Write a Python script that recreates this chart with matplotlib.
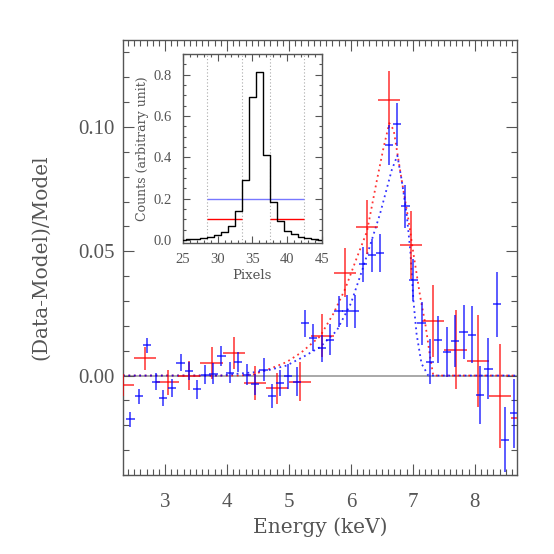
import numpy as np
import matplotlib
matplotlib.use("Agg")
import matplotlib.pyplot as plt
from matplotlib.ticker import MultipleLocator

# residual data, blue set
blue_e = [2.44, 2.58, 2.71, 2.85, 2.97, 3.11, 3.25, 3.39, 3.52, 3.65, 3.78, 3.91,
          4.05, 4.18, 4.32, 4.45, 4.59, 4.73, 4.86, 4.99, 5.13, 5.26, 5.39, 5.53,
          5.66, 5.80, 5.93, 6.07, 6.20, 6.34, 6.47, 6.61, 6.74, 6.88, 7.01, 7.14,
          7.28, 7.41, 7.55, 7.68, 7.82, 7.95, 8.09, 8.22, 8.36, 8.49, 8.63]
blue_val = [-0.0175, -0.0083, 0.0121, -0.0024, -0.0090, -0.0050, 0.0052, 0.0020,
            -0.0056, 0.0003, 0.0007, 0.0077, 0.0012, 0.0056, 0.0003, -0.0036,
            0.0024, -0.0082, -0.0030, -0.0003, -0.0024, 0.0210, 0.0152, 0.0110,
            0.0144, 0.0259, 0.0260, 0.0258, 0.0448, 0.0484, 0.0493, 0.0927,
            0.1010, 0.0680, 0.0383, 0.0210, 0.0056, 0.0144, 0.0094, 0.0138,
            0.0175, 0.0164, -0.0078, 0.0027, 0.0286, -0.0258, -0.0152]
blue_err = [0.0030, 0.0030, 0.0030, 0.0036, 0.0032, 0.0037, 0.0034, 0.0036,
            0.0037, 0.0038, 0.0042, 0.0040, 0.0042, 0.0040, 0.0043, 0.0044,
            0.0046, 0.0048, 0.0052, 0.0050, 0.0057, 0.0054, 0.0055, 0.0054,
            0.0062, 0.0062, 0.0065, 0.0067, 0.0070, 0.0067, 0.0077, 0.0080,
            0.0085, 0.0085, 0.0085, 0.0087, 0.0092, 0.0095, 0.0100, 0.0104,
            0.0110, 0.0114, 0.0118, 0.0123, 0.0131, 0.0130, 0.0140]
blue_bin = 0.067

# residual data, red set
red_e = [2.32, 2.68, 3.04, 3.39, 3.75, 4.11, 4.45, 4.81, 5.18, 5.54, 5.91, 6.26,
         6.62, 6.97, 7.33, 7.69, 8.05, 8.41, 8.77]
red_val = [-0.0037, 0.0070, -0.0027, 0.0000, 0.0051, 0.0090, -0.0030, -0.0051,
           -0.0024, 0.0161, 0.0414, 0.0598, 0.1110, 0.0524, 0.0218, 0.0104,
           0.0058, -0.0083, -0.0172]
red_err = [0.0044, 0.0046, 0.0050, 0.0057, 0.0065, 0.0064, 0.0067, 0.0062,
           0.0080, 0.0087, 0.0097, 0.0110, 0.0113, 0.0137, 0.0145, 0.0160,
           0.0185, 0.0210, 0.0230]
red_bin = 0.18

# model curves (dotted)
red_model_e = [2.32, 3.5, 4.2, 4.42, 4.69, 4.96, 5.2, 5.5, 5.72, 5.91, 6.09, 6.26,
               6.42, 6.53, 6.62, 6.69, 6.82, 6.93, 7.01, 7.12, 7.2, 7.28, 7.33, 8.68]
red_model_v = [0, 0, 0, 0.0004, 0.0027, 0.0054, 0.0093, 0.0157, 0.025, 0.035,
               0.047, 0.058, 0.0786, 0.092, 0.1015, 0.0988, 0.0786, 0.0625, 0.049,
               0.0316, 0.021, 0.0074, 0, 0]
blue_model_e = [2.32, 3.9, 4.16, 4.43, 4.69, 4.96, 5.23, 5.5, 5.77, 6.0, 6.2, 6.47,
                6.66, 6.75, 6.82, 6.9, 6.96, 7.01, 7.06, 7.14, 7.25, 8.68]
blue_model_v = [0, 0, 0.0007, 0.0013, 0.0023, 0.004, 0.0075, 0.0114, 0.018, 0.029,
                0.0437, 0.065, 0.0827, 0.0885, 0.0786, 0.065, 0.050, 0.030, 0.0168,
                0.0048, 0, 0]

# inset: pixel profile
pix = [25, 26, 27, 28, 29, 30, 31, 32, 33, 34, 35, 36, 37, 38, 39, 40, 41, 42, 43, 44, 45]
counts = [0.0, 0.003, 0.006, 0.010, 0.015, 0.025, 0.040, 0.070, 0.140, 0.290, 0.690,
          0.815, 0.410, 0.185, 0.090, 0.045, 0.030, 0.017, 0.010, 0.005, 0.002]
bounds = [28.5, 33.5, 37.5, 42.5]
red_level = 0.1
blue_level = 0.2

FG = "#555555"
TICK_FONT = ["Liberation Serif", "DejaVu Serif"]
LABEL_FONT = ["DejaVu Serif"]
plt.rcParams["font.family"] = TICK_FONT
plt.rcParams["text.color"] = FG
plt.rcParams["axes.labelcolor"] = FG
plt.rcParams["xtick.color"] = FG
plt.rcParams["ytick.color"] = FG
plt.rcParams["axes.edgecolor"] = FG


def style_axes(ax, major_len, minor_len, size):
    ax.tick_params(which="both", direction="in", top=True, right=True,
                   labelsize=size, width=0.8)
    ax.tick_params(which="major", length=major_len)
    ax.tick_params(which="minor", length=minor_len)
    for s in ax.spines.values():
        s.set_linewidth(1.0)


fig = plt.figure(figsize=(5.54, 5.54), dpi=100)
ax = fig.add_axes([0.222, 0.1426, 0.711, 0.7854])

ax.axhline(0, color="#999999", lw=1.2, zorder=1)
ax.errorbar(red_e, red_val, xerr=red_bin, yerr=red_err, fmt="none",
            ecolor="red", elinewidth=1.2, alpha=0.75, zorder=3)
ax.errorbar(blue_e, blue_val, xerr=blue_bin, yerr=blue_err, fmt="none",
            ecolor="blue", elinewidth=1.2, alpha=0.75, zorder=3)
ax.plot(red_model_e, red_model_v, ls=(0, (1, 2)), color="red", lw=1.3, alpha=0.8, zorder=2)
ax.plot(blue_model_e, blue_model_v, ls=(0, (1, 2)), color="blue", lw=1.3, alpha=0.8, zorder=2)

ax.set_xlim(2.32, 8.68)
ax.set_ylim(-0.040, 0.135)
ax.xaxis.set_major_locator(MultipleLocator(1))
ax.xaxis.set_minor_locator(MultipleLocator(0.1))
ax.yaxis.set_major_locator(MultipleLocator(0.05))
ax.yaxis.set_minor_locator(MultipleLocator(0.01))
ax.yaxis.set_major_formatter(lambda v, p: f"{v:.2f}")
style_axes(ax, 8, 4, 15)
ax.tick_params(axis="x", pad=13)
ax.tick_params(axis="y", pad=6)
ax.set_xlabel("Energy (keV)", fontsize=14.5, family=LABEL_FONT)
ax.set_ylabel("(Data-Model)/Model", fontsize=14.5, family=LABEL_FONT)
ax.xaxis.set_label_coords(0.5, -0.098)
ax.yaxis.set_label_coords(-0.185, 0.5)

# inset
ins = fig.add_axes([0.330, 0.561, 0.251, 0.3415])
ins.step(pix, counts, where="mid", color="black", lw=1.0, zorder=3)
for b in bounds:
    ins.axvline(b, color="#aaaaaa", ls=(0, (1, 2)), lw=0.8, zorder=1)
ins.hlines(red_level, bounds[0], bounds[1], color="red", lw=1.0, zorder=2)
ins.hlines(red_level, bounds[2], bounds[3], color="red", lw=1.0, zorder=2)
ins.hlines(blue_level, bounds[0], bounds[3], color="#7777ff", lw=1.0, zorder=2)
ins.set_xlim(25, 45)
ins.set_ylim(-0.015, 0.9)
ins.xaxis.set_major_locator(MultipleLocator(5))
ins.xaxis.set_minor_locator(MultipleLocator(1))
ins.yaxis.set_major_locator(MultipleLocator(0.2))
ins.yaxis.set_minor_locator(MultipleLocator(0.05))
ins.yaxis.set_major_formatter(lambda v, p: f"{v:.1f}")
style_axes(ins, 5, 2.5, 10.5)
ins.tick_params(axis="x", pad=7)
ins.tick_params(axis="y", pad=8)
ins.set_xlabel("Pixels", fontsize=9.5, family=LABEL_FONT)
ins.set_ylabel("Counts (arbitrary unit)", fontsize=9, family=LABEL_FONT)
ins.xaxis.set_label_coords(0.5, -0.135)
ins.yaxis.set_label_coords(-0.245, 0.5)

fig.savefig("out.png", dpi=100)
